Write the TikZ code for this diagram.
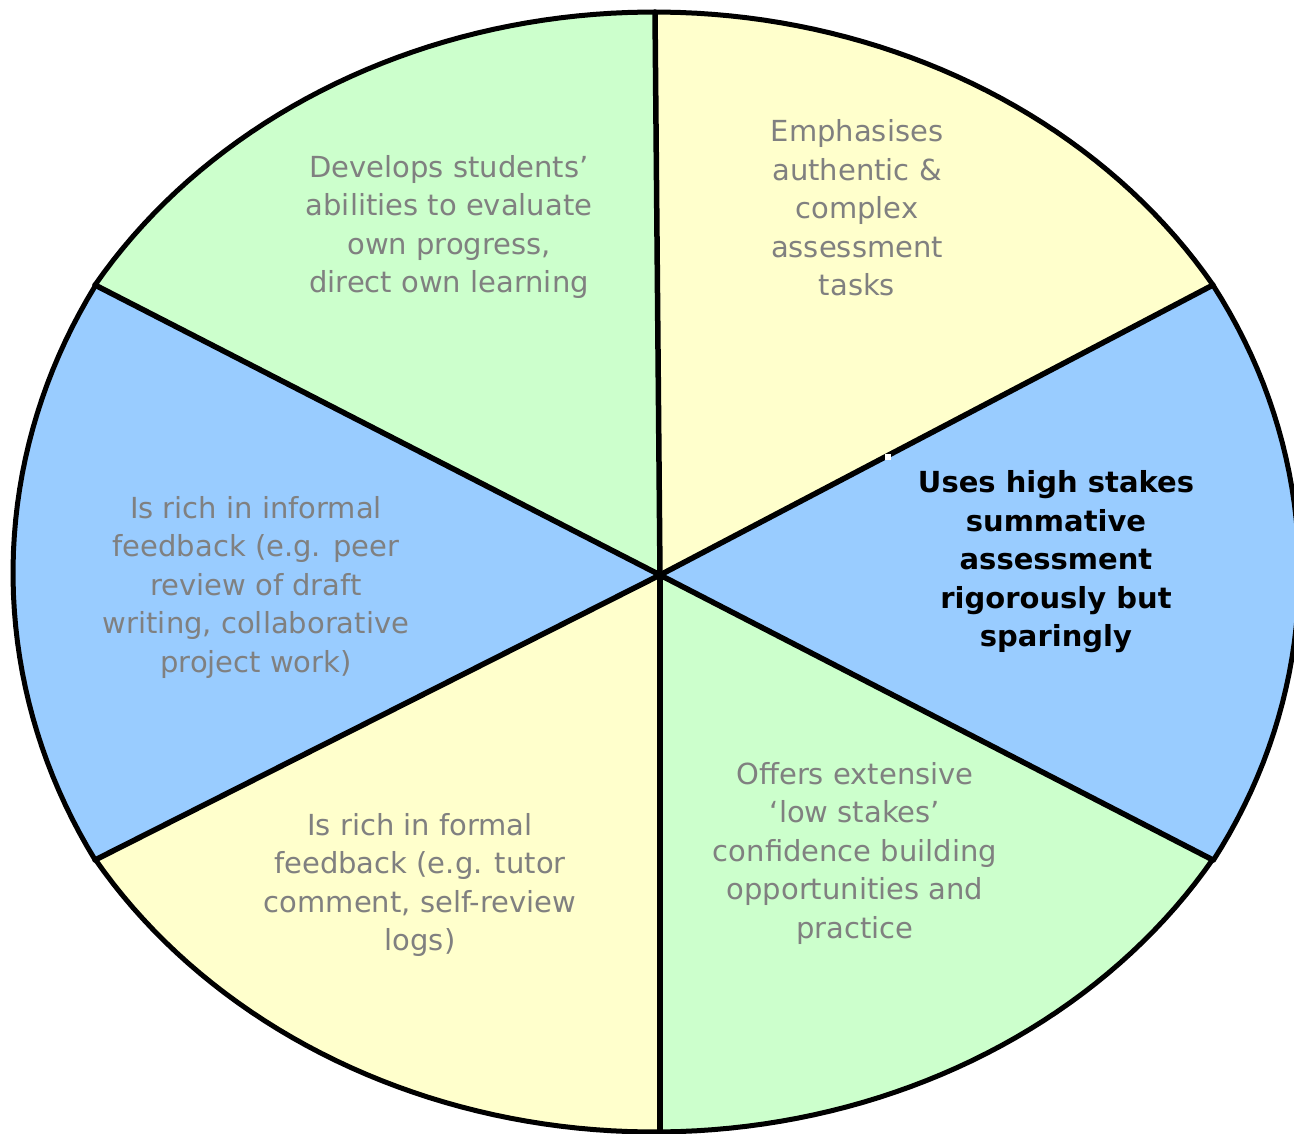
\documentclass[tikz,border=0pt]{standalone}
\usepackage{fontspec}
\setmainfont{DejaVu Sans}
\usetikzlibrary{calc}
\definecolor{pgreen}{RGB}{204,255,204}
\definecolor{pyellow}{RGB}{255,255,204}
\definecolor{pblue}{RGB}{153,204,255}
\definecolor{tgray}{RGB}{128,128,128}
\tikzset{
  sectortext/.style={align=center, text=tgray, font=\fontsize{29}{38.5}\selectfont, inner sep=0pt},
  boldtext/.style={align=center, text=black, font=\fontsize{29}{38.5}\selectfont\bfseries, inner sep=0pt},
  divider/.style={line width=5.5pt, line cap=round},
  rim/.style={line width=5pt, line join=round},
}
\begin{document}
\begin{tikzpicture}[x=1pt,y=-1pt]
\useasboundingbox (0,0) rectangle (1294,1134);
\clip (0,0) rectangle (1294,1134);
\coordinate (C) at (660,575);
\coordinate (T) at (655,12);
\coordinate (UR) at (1213,285);
\coordinate (LR) at (1213,860);
\coordinate (B) at (660,1132);
\coordinate (LL) at (95,860);
\coordinate (UL) at (95,285);
\def\outline{plot[domain=30.8:149.2, samples=80] ({654+651*cos(\x)},{572-560*sin(\x)})
  -- plot[domain=150.7:209.3, samples=40] ({654+641*cos(\x)},{573-586*sin(\x)})
  -- plot[domain=210.8:329.2, samples=80] ({654+651*cos(\x)},{572-560*sin(\x)})
  -- plot[domain=-29.9:29.9, samples=40] ({654+645*cos(\x)},{573-577*sin(\x)}) -- cycle}
\begin{scope}
  \clip \outline;
  \fill[pgreen] (C) -- ($(C)!1.6!(UL)$) -- ($(C)!1.6!(T)$) -- cycle;
  \fill[pyellow] (C) -- ($(C)!1.6!(T)$) -- ($(C)!1.6!(UR)$) -- cycle;
  \fill[pblue] (C) -- ($(C)!1.6!(UR)$) -- (1400,575) -- ($(C)!1.6!(LR)$) -- cycle;
  \fill[pgreen] (C) -- ($(C)!1.6!(LR)$) -- ($(C)!1.6!(B)$) -- cycle;
  \fill[pyellow] (C) -- ($(C)!1.6!(B)$) -- ($(C)!1.6!(LL)$) -- cycle;
  \fill[pblue] (C) -- ($(C)!1.6!(LL)$) -- (-200,575) -- ($(C)!1.6!(UL)$) -- cycle;
\end{scope}
\draw[divider] (C) -- (T);
\draw[divider] (C) -- (UR);
\draw[divider] (C) -- (LR);
\draw[divider] (C) -- (B);
\draw[divider] (C) -- (LL);
\draw[divider] (C) -- (UL);
\fill[white] (885,454) rectangle (891,460);
\draw[rim] \outline;
\node[sectortext] (tl) at (449,227) {Develops students’\\abilities to evaluate\\own progress,\\direct own learning};
\node[sectortext] (tr) at (857,208) {Emphasises\\authentic \&\\complex\\assessment\\tasks};
\node[boldtext] (r) at (1056,562) {Uses high stakes\\summative\\assessment\\rigorously but\\sparingly};
\node[sectortext] (br) at (855,853) {Offers extensive\\‘low stakes’\\confidence building\\opportunities and\\practice};
\node[sectortext] (bl) at (420,885) {Is rich in formal\\feedback (e.g. tutor\\comment, self-review\\logs)};
\node[sectortext] (l) at (256,587) {Is rich in informal\\feedback (e.g. peer\\review of draft\\writing, collaborative\\project work)};
\end{tikzpicture}
\end{document}
